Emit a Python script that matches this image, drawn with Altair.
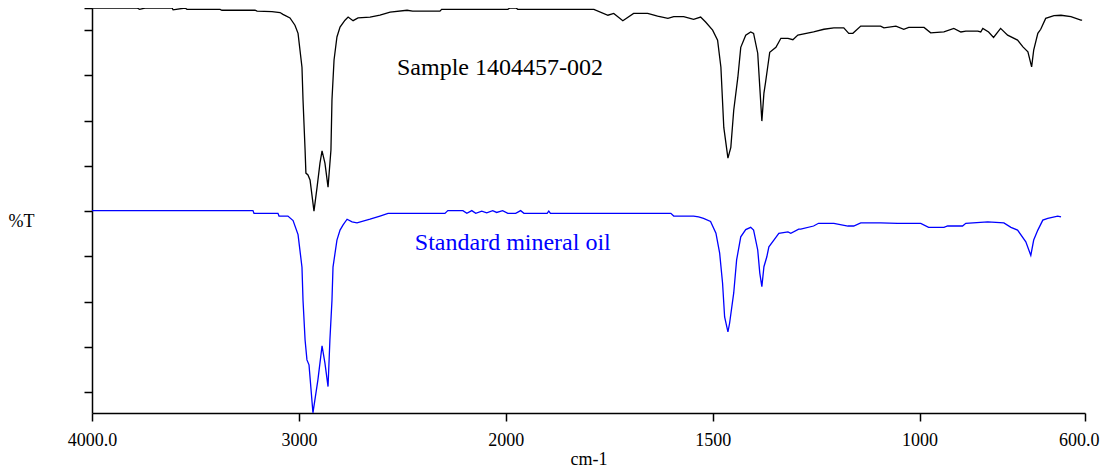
import altair as alt
import pandas as pd

# ---- data (wavenumber cm-1, %T display units) ----
sample_wn = [4000, 3889, 3782, 3770, 3744, 3613, 3608, 3550, 3541, 3381, 3372, 3212, 3202, 3130,
             3091, 3077, 3043, 3019, 3004, 2985, 2980, 2970, 2966, 2956, 2946, 2927, 2912, 2898,
             2888, 2874, 2859, 2845, 2840, 2830, 2816, 2801, 2777, 2762, 2738, 2714, 2656, 2608,
             2559, 2477, 2450, 2318, 2310, 1995, 1990, 1975, 1971, 1787, 1753, 1739, 1717, 1691,
             1657, 1633, 1608, 1594, 1570, 1546, 1529, 1517, 1500, 1488, 1480, 1473, 1463, 1456,
             1449, 1439, 1432, 1420, 1408, 1401, 1391, 1386, 1381, 1376, 1372, 1367, 1362, 1347,
             1335, 1318, 1306, 1294, 1256, 1231, 1207, 1183, 1171, 1161, 1142, 1094, 1086, 1057,
             1038, 1026, 989, 973, 941, 917, 900, 888, 859, 852, 847, 833, 821, 804, 787, 763,
             750, 738, 729, 724, 714, 707, 695, 675, 658, 634, 610, 607]
sample_t = [84.9, 84.9, 84.9, 84.6, 84.9, 84.9, 84.5, 84.9, 84.6, 84.6, 84.4, 84.4, 84.2, 84.1,
            83.9, 83.5, 82.7, 81.1, 79.3, 71.8, 64.6, 53.5, 48.4, 48.0, 46.9, 40.0, 45.3, 50.6,
            53.3, 50.6, 45.3, 53.5, 64.6, 73.4, 78.5, 80.7, 82.2, 82.9, 82.1, 82.7, 82.9, 83.3,
            84.0, 84.4, 84.2, 84.2, 84.6, 84.6, 84.9, 84.9, 84.6, 84.6, 83.3, 83.7, 82.1, 83.7,
            83.7, 83.1, 82.6, 83.0, 83.0, 82.4, 82.9, 81.8, 80.0, 77.8, 71.8, 58.5, 51.7, 54.1,
            62.3, 69.6, 76.2, 78.9, 79.6, 79.3, 74.9, 67.4, 59.9, 66.1, 68.5, 71.8, 75.1, 76.2,
            78.2, 78.2, 77.9, 78.9, 79.6, 80.2, 80.5, 80.5, 79.3, 79.3, 80.9, 80.9, 80.5, 80.9,
            80.2, 80.6, 80.6, 79.4, 79.6, 80.4, 79.6, 79.8, 79.8, 79.6, 80.4, 79.6, 78.4, 80.4,
            78.9, 77.8, 76.3, 75.2, 71.9, 75.6, 79.3, 80.2, 82.6, 83.2, 83.3, 83.0, 82.2, 82.2]

standard_wn = [4000, 3222, 3217, 3101, 3096, 3053, 3028, 3004, 2985, 2980, 2970, 2961, 2951, 2932,
               2908, 2888, 2874, 2859, 2850, 2840, 2835, 2816, 2801, 2787, 2767, 2743, 2719, 2656,
               2608, 2569, 2294, 2280, 2207, 2188, 2164, 2145, 2116, 2092, 2063, 2044, 2015, 1995,
               1976, 1964, 1956, 1947, 1900, 1896, 1892, 1601, 1594, 1546, 1534, 1522, 1505, 1492,
               1483, 1476, 1471, 1463, 1459, 1449, 1442, 1432, 1420, 1408, 1401, 1391, 1386, 1381,
               1376, 1369, 1364, 1352, 1340, 1318, 1311, 1292, 1287, 1256, 1244, 1207, 1173, 1159,
               1142, 1094, 1053, 997, 978, 941, 932, 896, 888, 835, 796, 779, 763, 743, 731, 724,
               714, 702, 690, 666, 658]
standard_t = [40.1, 40.1, 39.5, 39.5, 38.9, 38.9, 37.9, 34.8, 27.6, 20.3, 11.5, 7.1, 6.0, -4.6,
              2.7, 10.2, 6.4, 1.2, 11.5, 20.3, 27.6, 33.6, 35.8, 36.9, 38.2, 37.6, 37.4, 38.2,
              38.9, 39.5, 39.5, 40.1, 40.1, 39.5, 40.1, 39.5, 40.0, 39.6, 40.1, 39.7, 40.1, 39.5,
              39.5, 40.1, 39.5, 39.5, 39.5, 40.0, 39.5, 39.5, 38.9, 38.9, 38.7, 38.4, 37.7, 35.1,
              30.7, 24.1, 16.6, 13.3, 15.2, 21.9, 29.2, 34.3, 35.9, 36.4, 35.8, 31.4, 26.3, 23.3,
              27.7, 29.9, 32.1, 33.6, 35.1, 35.4, 35.1, 36.0, 36.0, 36.7, 37.3, 37.3, 36.7, 36.7,
              37.4, 37.4, 37.3, 37.3, 36.4, 36.4, 36.7, 36.7, 37.3, 37.6, 37.4, 36.4, 35.8, 33.2,
              30.2, 33.6, 35.8, 38.0, 38.4, 38.9, 38.7]

series_names = ["Sample 1404457-002", "Standard mineral oil"]
series_colors = ["#000000", "#0000ff"]

label_wn = [2028, 1983]
label_t = [71.6, 33.0]

tick_wn = [4000, 3000, 2000, 1500, 1000, 600]
tick_labels = ["4000.0", "3000", "2000", "1500", "1000", "600.0"]
y_ticks = [0, 10, 20, 30, 40, 50, 60, 70, 80, 84.9]
y_domain = [-4.64, 84.9]

# ---- tables ----
lines = pd.concat([
    pd.DataFrame({"wn": sample_wn, "t": sample_t, "series": series_names[0], "order": range(len(sample_wn))}),
    pd.DataFrame({"wn": standard_wn, "t": standard_t, "series": series_names[1], "order": range(len(standard_wn))}),
])
labels = pd.DataFrame({"wn": label_wn, "t": label_t, "series": series_names})


def to_u(wn):
    # split abscissa: 4000-2000 compressed by 2, 2000-600 linear
    return (4000 - wn) / 2 if wn >= 2000 else 3000 - wn


tick_u = [to_u(w) for w in tick_wn]
label_expr = " : ".join(
    f"datum.value == {u} ? '{lab}'" for u, lab in zip(tick_u, tick_labels)
) + " : ''"
last_u = tick_u[-1]

u_calc = "datum.wn >= 2000 ? (4000 - datum.wn) / 2 : 3000 - datum.wn"

color_scale = alt.Scale(domain=series_names, range=series_colors)

x_enc = alt.X("u:Q", scale=alt.Scale(domain=[0, 2400], nice=False, zero=False),
              axis=alt.Axis(values=tick_u, labelExpr=label_expr, title="cm-1",
                            labelPadding=10, titlePadding=1, labelFlush=False,
                            labelOverlap=False,
                            labelAlign=alt.ConditionalAxisLabelAlign(
                                condition={"test": f"datum.value == {last_u}", "value": "right"},
                                value="center"),
                            labelOffset=alt.ConditionalAxisNumber(
                                condition={"test": f"datum.value == {last_u}", "value": 14},
                                value=0)))
y_enc = alt.Y("t:Q", scale=alt.Scale(domain=y_domain, nice=False, zero=False),
              axis=alt.Axis(values=y_ticks, labels=False, title="%T", titleAngle=0,
                            titleAlign="left", titleBaseline="middle",
                            titleX=-84, titleY=213))

line_layer = alt.Chart(lines).transform_calculate(u=u_calc).mark_line(
    strokeWidth=1.3, interpolate="linear"
).encode(
    x=x_enc, y=y_enc,
    color=alt.Color("series:N", scale=color_scale, legend=None),
    detail="series:N",
    order="order:Q",
)

text_layer = alt.Chart(labels).transform_calculate(u=u_calc).mark_text(
    font="Liberation Serif", fontSize=24, align="center", baseline="middle"
).encode(
    x="u:Q", y="t:Q",
    text="series:N",
    color=alt.Color("series:N", scale=color_scale, legend=None),
)

chart = alt.layer(line_layer, text_layer).properties(
    width=993, height=405,
    autosize=alt.AutoSizeParams(type="none"),
    padding={"left": 84, "top": 0, "right": 15, "bottom": 55},
).configure_view(stroke=None).configure_axis(
    grid=False,
    domainColor="#000000", domainWidth=1.5,
    tickColor="#000000", tickWidth=1.5, tickSize=8,
    labelFont="Liberation Serif", labelFontSize=18, labelColor="#000000",
    titleFont="Liberation Serif", titleFontSize=18, titleColor="#000000",
    titleFontWeight="normal",
)

chart.save("out.html", embed_options={"renderer": "svg", "actions": False})
